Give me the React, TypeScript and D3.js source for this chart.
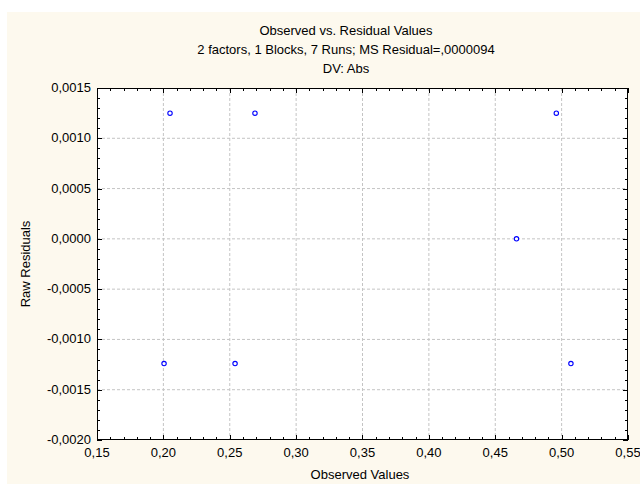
import React from "react";
import * as d3 from "d3";

const observed = [0.205, 0.269, 0.496, 0.466, 0.2005, 0.254, 0.507];
const residuals = [0.00125, 0.00125, 0.00125, 0.0, -0.00124, -0.00124, -0.00124];
const xTicks = [0.15, 0.2, 0.25, 0.3, 0.35, 0.4, 0.45, 0.5, 0.55];
const yTicks = [0.0015, 0.001, 0.0005, 0, -0.0005, -0.001, -0.0015, -0.002];
const titleLines = [
  "Observed vs. Residual Values",
  "2 factors, 1 Blocks, 7 Runs; MS Residual=,0000094",
  "DV: Abs",
];
const xTitle = "Observed Values";
const yTitle = "Raw Residuals";

const W = 640;
const H = 484;
const L = 97;
const R = 628;
const T = 88;
const B = 440;
const FONT = "'Liberation Sans', Arial, sans-serif";
const FS = 13;

const fmtX = (v: number) => v.toFixed(2).replace(".", ",");
const fmtY = (v: number) => {
  const s = Math.abs(v).toFixed(4).replace(".", ",");
  return (v < -1e-12 ? "-" : "") + s;
};

export default function App() {
  const x = d3.scaleLinear().domain([0.15, 0.55]).range([L, R]);
  const y = d3.scaleLinear().domain([-0.002, 0.0015]).range([B, T]);

  const xMinor = d3.range(0, 41).map((i) => 0.15 + i * 0.01);
  const yMinor = d3.range(0, 36).map((i) => -0.002 + i * 0.0001);

  return (
    <svg
      width={W}
      height={H}
      style={{ position: "absolute", left: 0, top: 0, display: "block" }}
      fontFamily={FONT}
    >
      <rect x={0} y={0} width={W} height={H} fill="#ffffff" />
      <rect x={7} y={12} width={W - 7} height={H - 12} fill="#fdf9ee" />
      <rect x={L} y={T} width={R - L} height={B - T} fill="#ffffff" />

      {xTicks.slice(1, -1).map((v) => (
        <line
          key={"gx" + v}
          x1={x(v)}
          x2={x(v)}
          y1={T}
          y2={B}
          stroke="#c4c4c4"
          strokeDasharray="3,2"
          strokeWidth={1}
        />
      ))}
      {yTicks.slice(1, -1).map((v) => (
        <line
          key={"gy" + v}
          x1={L}
          x2={R}
          y1={y(v)}
          y2={y(v)}
          stroke="#c4c4c4"
          strokeDasharray="3,2"
          strokeWidth={1}
        />
      ))}

      {xMinor.map((v, i) => {
        const len = i % 5 === 0 ? 5 : 3;
        const px = Math.round(x(v)) + 0.5;
        return (
          <g key={"xt" + i}>
            <line x1={px} x2={px} y1={B} y2={B - len} stroke="#000" />
            <line x1={px} x2={px} y1={T} y2={T + len} stroke="#000" />
          </g>
        );
      })}
      {yMinor.map((v, i) => {
        const len = i % 5 === 0 ? 5 : 3;
        const py = Math.round(y(v)) + 0.5;
        return (
          <g key={"yt" + i}>
            <line x1={L} x2={L + len} y1={py} y2={py} stroke="#000" />
            <line x1={R} x2={R - len} y1={py} y2={py} stroke="#000" />
          </g>
        );
      })}

      <rect
        x={L + 0.5}
        y={T + 0.5}
        width={R - L - 1}
        height={B - T - 1}
        fill="none"
        stroke="#000"
        strokeWidth={1}
      />

      {observed.map((v, i) => (
        <circle
          key={"p" + i}
          cx={x(v)}
          cy={y(residuals[i])}
          r={2.2}
          fill="#ffffff"
          stroke="#0000ff"
          strokeWidth={1.1}
        />
      ))}

      {xTicks.map((v) => (
        <text
          key={"xl" + v}
          x={x(v)}
          y={B + 17}
          fontSize={FS}
          textAnchor="middle"
          fill="#000"
        >
          {fmtX(v)}
        </text>
      ))}
      {yTicks.map((v) => (
        <text
          key={"yl" + v}
          x={L - 6}
          y={y(v) + 4}
          fontSize={FS}
          textAnchor="end"
          fill="#000"
        >
          {fmtY(v)}
        </text>
      ))}

      {titleLines.map((t, i) => (
        <text
          key={"t" + i}
          x={346}
          y={35 + i * 19}
          fontSize={FS}
          textAnchor="middle"
          fill="#000"
        >
          {t}
        </text>
      ))}
      <text x={360} y={479} fontSize={FS} textAnchor="middle" fill="#000">
        {xTitle}
      </text>
      <text
        transform={`translate(30, ${(T + B) / 2}) rotate(-90)`}
        fontSize={FS}
        textAnchor="middle"
        fill="#000"
      >
        {yTitle}
      </text>
    </svg>
  );
}
